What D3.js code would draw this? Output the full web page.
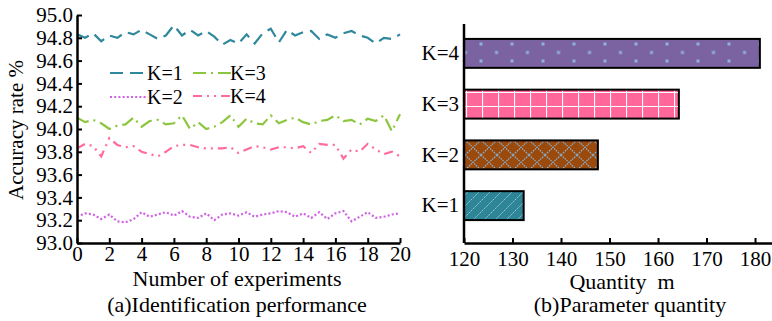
<!DOCTYPE html>
<html>
<head>
<meta charset="utf-8">
<script src="https://cdn.jsdelivr.net/npm/d3@7"></script>
<style>
  body { margin: 0; background: #fff; }
  svg { display: block; font-family: "Liberation Serif", "Times New Roman", serif; }
</style>
</head>
<body>
<svg id="chart" width="772" height="321"></svg>
<script>
// Data
var runs = d3.range(0, 20.5, 0.5);
var accK1 = [94.83, 94.80, 94.84, 94.77, 94.82, 94.80, 94.85, 94.83, 94.87, 94.83, 94.79, 94.82, 94.91, 94.82, 94.87, 94.82, 94.86, 94.81, 94.74, 94.78, 94.75,
             94.83, 94.75, 94.84, 94.88, 94.76, 94.87, 94.82, 94.85, 94.86, 94.79, 94.83, 94.80, 94.84, 94.86, 94.82, 94.80, 94.75, 94.80, 94.79, 94.83];
var accK2 = [93.23, 93.26, 93.25, 93.21, 93.25, 93.19, 93.18, 93.21, 93.27, 93.23, 93.25, 93.27, 93.24, 93.28, 93.23, 93.22, 93.26, 93.20, 93.25, 93.26, 93.24,
             93.27, 93.23, 93.25, 93.26, 93.28, 93.27, 93.23, 93.26, 93.22, 93.27, 93.21, 93.26, 93.28, 93.19, 93.23, 93.27, 93.22, 93.23, 93.25, 93.26];
var accK3 = [94.10, 94.06, 94.08, 94.05, 94.00, 94.03, 94.04, 94.10, 94.02, 94.07, 94.08, 94.04, 94.05, 94.12, 94.00, 94.06, 94.00, 94.02, 94.06, 94.12, 94.02,
             94.09, 94.05, 94.04, 94.12, 94.05, 94.08, 94.10, 94.06, 94.04, 94.07, 94.08, 94.12, 94.07, 94.08, 94.04, 94.09, 94.07, 94.12, 93.98, 94.13];
var accK4 = [93.83, 93.87, 93.85, 93.76, 93.92, 93.86, 93.84, 93.85, 93.80, 93.78, 93.76, 93.80, 93.85, 93.86, 93.86, 93.84, 93.83, 93.83, 93.83, 93.84, 93.79,
             93.82, 93.85, 93.84, 93.82, 93.84, 93.84, 93.83, 93.85, 93.79, 93.87, 93.86, 93.86, 93.74, 93.82, 93.80, 93.87, 93.82, 93.78, 93.80, 93.76];
var seriesNames = ["K=1", "K=2", "K=3", "K=4"];
var paramCats = ["K=4", "K=3", "K=2", "K=1"];
var paramValues = [181, 164.3, 147.6, 132.3];
var xTicksA = d3.range(0, 21, 2);
var yTicksA = d3.range(93, 95.01, 0.2);
var xTicksB = d3.range(120, 181, 10);

var svg = d3.select("#chart");
var lineColors = { "K=1": "#2f889b", "K=2": "#d061e4", "K=3": "#8cc63f", "K=4": "#ff6b9b" };
var lineDash = { "K=1": "13,7", "K=2": "2,2.2", "K=3": "13,5,2,5", "K=4": "9,5,2,5,2,5" };
var tickFont = 21, titleFont = 22;

// ---------- (a) line chart ----------
var x = d3.scaleLinear().domain([0, 20]).range([77, 400]);
var y = d3.scaleLinear().domain([93, 95]).range([243, 15]);

var left = svg.append("g");
var series = [
  { name: "K=1", values: accK1 },
  { name: "K=2", values: accK2 },
  { name: "K=3", values: accK3 },
  { name: "K=4", values: accK4 }
];
var line = d3.line()
  .x(function(d, i) { return x(runs[i]); })
  .y(function(d) { return y(d); });

left.selectAll(".series")
  .data(series)
  .enter().append("path")
    .attr("class", "series")
    .attr("d", function(d) { return line(d.values); })
    .attr("fill", "none")
    .attr("stroke", function(d) { return lineColors[d.name]; })
    .attr("stroke-width", 2.2)
    .attr("stroke-dasharray", function(d) { return lineDash[d.name]; });

var xAxisA = left.append("g")
  .attr("transform", "translate(0,243)")
  .call(d3.axisBottom(x).tickValues(xTicksA).tickSizeInner(-5).tickSizeOuter(0).tickPadding(3));
var yAxisA = left.append("g")
  .attr("transform", "translate(77,0)")
  .call(d3.axisLeft(y).tickValues(yTicksA).tickSizeInner(-5).tickSizeOuter(0).tickPadding(4)
    .tickFormat(d3.format(".1f")));

[xAxisA, yAxisA].forEach(function(a) {
  a.select(".domain").attr("stroke", "#000").attr("stroke-width", 2.5);
  a.selectAll(".tick line").attr("stroke", "#000").attr("stroke-width", 2);
  a.selectAll("text").attr("font-size", tickFont).attr("fill", "#000").style("font-family", "Liberation Serif");
});

// legend
var legendPos = [
  { name: "K=1", x: 110, y: 73 },
  { name: "K=2", x: 110, y: 97 },
  { name: "K=3", x: 193, y: 73 },
  { name: "K=4", x: 193, y: 96 }
];
var leg = left.selectAll(".leg")
  .data(legendPos)
  .enter().append("g")
    .attr("transform", function(d) { return "translate(" + d.x + "," + d.y + ")"; });
leg.append("line")
  .attr("x1", 0).attr("x2", 38)
  .attr("stroke", function(d) { return lineColors[d.name]; })
  .attr("stroke-width", 2.2)
  .attr("stroke-dasharray", function(d) { return lineDash[d.name]; });
leg.append("text")
  .attr("x", 37).attr("y", 7)
  .attr("font-size", 20)
  .text(function(d) { return d.name; });

left.append("text")
  .attr("transform", "translate(23,130) rotate(-90)")
  .attr("text-anchor", "middle")
  .attr("font-size", 21)
  .text("Accuracy rate %");
left.append("text")
  .attr("x", 237).attr("y", 286)
  .attr("text-anchor", "middle")
  .attr("font-size", titleFont)
  .text("Number of experiments");
left.append("text")
  .attr("x", 237).attr("y", 312)
  .attr("text-anchor", "middle")
  .attr("font-size", titleFont)
  .text("(a)Identification performance");

// ---------- (b) bar chart ----------
var defs = svg.append("defs");
// K=1 diagonal stripes
var p1 = defs.append("pattern").attr("id", "pK1").attr("patternUnits", "userSpaceOnUse")
  .attr("width", 11).attr("height", 11);
p1.append("rect").attr("width", 11).attr("height", 11).attr("fill", "#2e8596");
p1.append("path").attr("d", "M-2,13 L13,-2 M-2,2 L2,-2 M9,13 L13,9")
  .attr("stroke", "#9cc3e4").attr("stroke-width", 1).attr("stroke-dasharray", "2,1");
// K=2 crosshatch
var p2 = defs.append("pattern").attr("id", "pK2").attr("patternUnits", "userSpaceOnUse")
  .attr("width", 16).attr("height", 15).attr("x", 465).attr("y", 140);
p2.append("rect").attr("width", 16).attr("height", 15).attr("fill", "#9b4a0c");
p2.append("path").attr("d", "M0,0 L16,15 M16,0 L0,15")
  .attr("stroke", "#86b4d8").attr("stroke-width", 1.2).attr("stroke-dasharray", "1.5,1");
// K=3 white grid
var p3 = defs.append("pattern").attr("id", "pK3").attr("patternUnits", "userSpaceOnUse")
  .attr("width", 16).attr("height", 14).attr("x", 466).attr("y", 92);
p3.append("rect").attr("width", 16).attr("height", 14).attr("fill", "#ff6699");
p3.append("path").attr("d", "M0,0 L0,14 M0,0 L16,0")
  .attr("stroke", "#fff").attr("stroke-width", 2.2);
// K=4 dots
var p4 = defs.append("pattern").attr("id", "pK4").attr("patternUnits", "userSpaceOnUse")
  .attr("width", 31).attr("height", 17).attr("x", 479.5).attr("y", 42.5);
p4.append("rect").attr("width", 31).attr("height", 17).attr("fill", "#7b62a0");
p4.append("rect").attr("x", 0).attr("y", 0).attr("width", 3).attr("height", 3).attr("fill", "#8fb3d9");
p4.append("rect").attr("x", 15.5).attr("y", 8.5).attr("width", 3).attr("height", 3).attr("fill", "#8fb3d9");

var xb = d3.scaleLinear().domain([120, 183.5]).range([464, 772]);
var yb = d3.scaleBand().domain(paramCats).range([28, 231]).paddingInner(0.43).paddingOuter(0.215);

var right = svg.append("g");
right.selectAll(".bar")
  .data(paramCats)
  .enter().append("rect")
    .attr("class", "bar")
    .attr("x", xb(120))
    .attr("y", function(d) { return yb(d); })
    .attr("width", function(d, i) { return xb(paramValues[i]) - xb(120); })
    .attr("height", yb.bandwidth())
    .attr("fill", function(d) { return "url(#p" + d.replace("=", "") + ")"; })
    .attr("stroke", "#000")
    .attr("stroke-width", 2);

var xAxisB = right.append("g")
  .attr("transform", "translate(0,243)")
  .call(d3.axisBottom(xb).tickValues(xTicksB).tickSizeInner(-5).tickSizeOuter(0).tickPadding(8));
var yAxisB = right.append("g")
  .attr("transform", "translate(464,0)")
  .call(d3.axisLeft(yb).tickSize(0).tickPadding(5));
yAxisB.select(".domain").attr("d", "M0,24 V243");

[xAxisB, yAxisB].forEach(function(a) {
  a.select(".domain").attr("stroke", "#000").attr("stroke-width", 2.5);
  a.selectAll(".tick line").attr("stroke", "#000").attr("stroke-width", 2);
  a.selectAll("text").attr("font-size", tickFont).attr("fill", "#000").style("font-family", "Liberation Serif");
});

right.append("text")
  .attr("x", 622).attr("y", 289)
  .attr("text-anchor", "middle")
  .attr("font-size", titleFont)
  .attr("xml:space", "preserve")
  .style("white-space", "pre")
  .text("Quantity  m");
right.append("text")
  .attr("x", 630).attr("y", 312)
  .attr("text-anchor", "middle")
  .attr("font-size", titleFont)
  .text("(b)Parameter quantity");
</script>
</body>
</html>
